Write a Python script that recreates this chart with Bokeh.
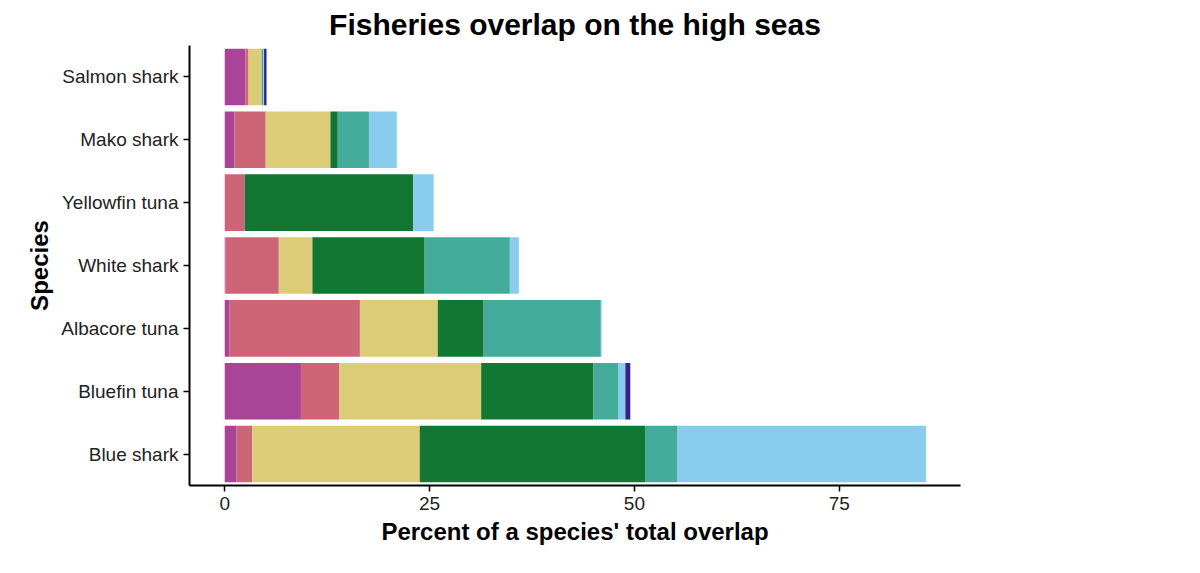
from bokeh.plotting import figure
from bokeh.models import Legend, LegendItem, Range1d
from bokeh.embed import file_html
from bokeh.resources import INLINE

species = ["Blue shark", "Bluefin tuna", "Albacore tuna", "White shark", "Yellowfin tuna", "Mako shark", "Salmon shark"]
countries = ["Vanuatu", "United States", "Taiwan", "Mexico", "Japan", "China", "Canada"]
colors = ["#AA4499", "#CC6677", "#DDCC77", "#117733", "#44AA99", "#88CCEE", "#332288"]
Vanuatu = [1.45, 9.3, 0.6, 0.1, 0.0, 1.2, 2.5]
United_States = [1.9, 4.7, 15.9, 6.5, 2.45, 3.8, 0.4]
Taiwan = [20.45, 17.3, 9.5, 4.1, 0.0, 7.9, 1.6]
Mexico = [27.5, 13.7, 5.6, 13.7, 20.55, 0.9, 0.0]
Japan = [3.9, 3.0, 14.3, 10.4, 0.0, 3.8, 0.2]
China = [30.4, 0.9, 0.1, 1.1, 2.5, 3.4, 0.1]
Canada = [0.0, 0.6, 0.0, 0.0, 0.0, 0.0, 0.3]

data = {"species": species, "Vanuatu": Vanuatu, "United States": United_States, "Taiwan": Taiwan,
        "Mexico": Mexico, "Japan": Japan, "China": China, "Canada": Canada}

p = figure(y_range=species, frame_width=771, frame_height=440, output_backend="svg", toolbar_location=None,
           title="Fisheries overlap on the high seas", x_range=Range1d(-4.3, 89.8),
           min_border_left=189, min_border_right=10, min_border_top=12, min_border_bottom=10)
rs = p.hbar_stack(countries, y="species", height=0.9, color=colors, source=data, line_color=None)

items = [LegendItem(label=c, renderers=[r]) for c, r in zip(countries, rs)][::-1]
leg = Legend(items=items, title="Country", location="center", border_line_color=None,
             title_text_font_size="24px", title_text_font_style="bold", title_text_font="Liberation Sans",
             title_text_color="black",
             label_text_font_size="17px", label_text_font="Liberation Sans", label_text_color="#222222",
             glyph_width=32, glyph_height=30,
             spacing=4, label_standoff=14, title_standoff=10, margin=24, padding=0)
p.add_layout(leg, "right")

p.title.text_font = "Liberation Sans"
p.title.text_font_size = "30px"
p.title.align = "center"
p.title.text_color = "black"
p.xaxis.axis_label = "Percent of a species' total overlap"
p.yaxis.axis_label = "Species"
for ax in (p.xaxis, p.yaxis):
    ax.axis_label_text_font = "Liberation Sans"
    ax.axis_label_text_font_size = "24px"
    ax.axis_label_text_font_style = "bold"
    ax.axis_label_text_color = "black"
    ax.major_label_text_font = "Liberation Sans"
    ax.major_label_text_font_size = "19px"
    ax.major_label_text_color = "#222222"
    ax.axis_line_width = 2
    ax.major_tick_line_width = 1.5
    ax.minor_tick_line_color = None
    ax.major_tick_out = 6
    ax.major_tick_in = 0
p.xaxis.ticker = [0, 25, 50, 75]
p.xgrid.visible = False
p.ygrid.visible = False
p.outline_line_color = None
p.y_range.range_padding = 0.0

open("out.html", "w").write(file_html(p, INLINE))
